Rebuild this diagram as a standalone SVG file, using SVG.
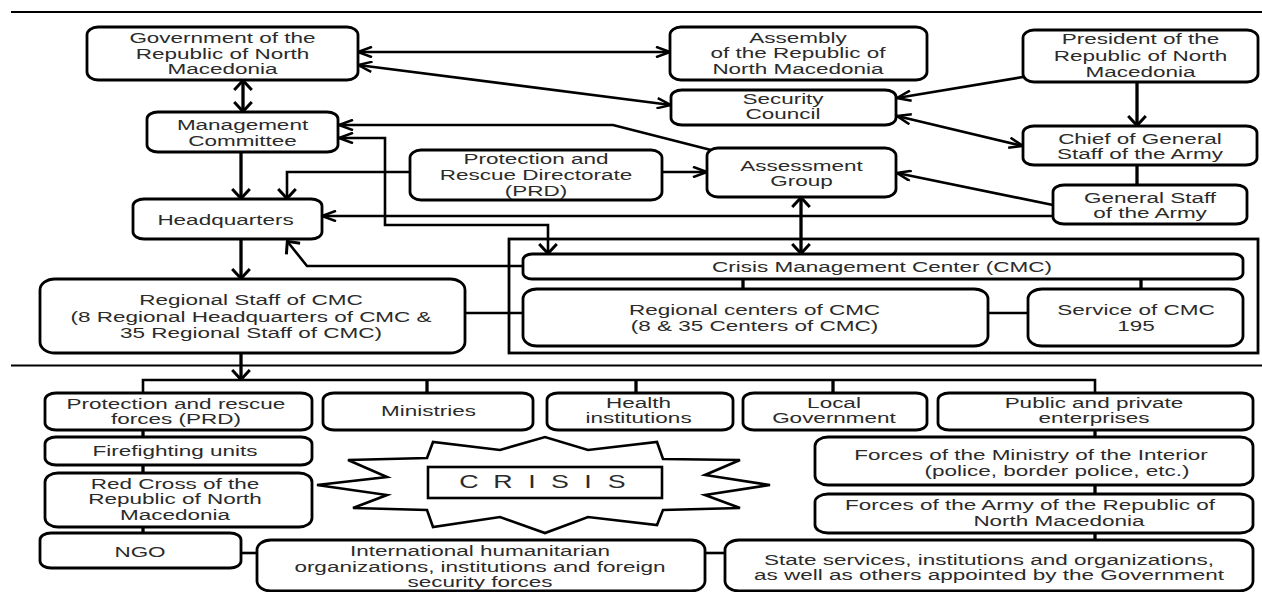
<svg xmlns="http://www.w3.org/2000/svg" width="1262" height="592" viewBox="0 0 1262 592">
<style>
.b{fill:#fff;stroke:#000;stroke-width:2.8}
.t{font-family:"Liberation Sans",Arial,sans-serif;font-size:15px;fill:#2b2b2b;text-anchor:middle}
.c{fill:none;stroke:#000;stroke-width:2.6}
.v{fill:none;stroke:#000;stroke-width:3.3}
</style>
<defs>
<marker id="ah" viewBox="0 0 16 12" refX="15" refY="6" markerWidth="16" markerHeight="12" markerUnits="userSpaceOnUse" orient="auto-start-reverse"><path d="M1,0.8 L15,6 L1,11.2" fill="none" stroke="#000" stroke-width="2.5"/></marker>
<marker id="av" viewBox="0 0 12 20" refX="11" refY="10" markerWidth="12" markerHeight="20" markerUnits="userSpaceOnUse" orient="auto-start-reverse"><path d="M1,1.2 L10.5,10 L1,18.8" fill="none" stroke="#000" stroke-width="3"/></marker>
</defs>
<rect width="1262" height="592" fill="#fff"/>
<g id="separators">
<line x1="11" y1="12" x2="1262" y2="12" stroke="#000" stroke-width="2"/>
<line x1="11" y1="365.5" x2="1262" y2="365.5" stroke="#000" stroke-width="2"/>
</g>
<g id="connectors">
<line class="c" x1="358" y1="52" x2="670" y2="52" marker-start="url(#ah)" marker-end="url(#ah)"/>
<line class="c" x1="358" y1="65" x2="671" y2="105" marker-start="url(#ah)" marker-end="url(#ah)"/>
<line class="c" x1="1023" y1="77" x2="897" y2="98" marker-end="url(#ah)"/>
<line class="c" x1="897" y1="116" x2="1023" y2="146" marker-start="url(#ah)" marker-end="url(#ah)"/>
<line class="v" x1="1137" y1="82" x2="1137" y2="126" marker-end="url(#av)"/>
<line class="v" x1="1137" y1="165" x2="1137" y2="185"/>
<line class="v" x1="243" y1="80" x2="243" y2="112" marker-start="url(#av)" marker-end="url(#av)"/>
<line class="v" x1="241" y1="152" x2="241" y2="199" marker-end="url(#av)"/>
<polyline class="c" points="410,172 287,172 287,199" marker-end="url(#av)"/>
<line class="c" x1="662" y1="172" x2="707" y2="172" marker-end="url(#ah)"/>
<polyline class="c" points="711,150 613,125 339,125" marker-end="url(#ah)"/>
<polyline class="c" points="339,138 385,138 385,225 548,225 548,254" marker-start="url(#ah)" marker-end="url(#av)"/>
<line class="c" x1="1053" y1="216" x2="322" y2="216" marker-end="url(#ah)"/>
<line class="c" x1="1053" y1="205" x2="897" y2="173" marker-end="url(#ah)"/>
<line class="v" x1="801" y1="197" x2="801" y2="254" marker-start="url(#av)" marker-end="url(#av)"/>
<polyline class="c" points="523,266 307,266 287,241" marker-end="url(#av)"/>
<line class="v" x1="241" y1="239" x2="241" y2="279" marker-end="url(#av)"/>
<line class="c" x1="465" y1="313" x2="523" y2="313"/>
<line class="v" x1="743" y1="279" x2="743" y2="289"/>
<line class="v" x1="1141" y1="279" x2="1141" y2="289"/>
<line class="c" x1="988" y1="313" x2="1028" y2="313"/>
<line class="v" x1="241" y1="353" x2="241" y2="380" marker-end="url(#av)"/>
<polyline class="c" points="143,393 143,380 1095,380 1095,393"/>
<line class="v" x1="427" y1="380" x2="427" y2="393"/>
<line class="v" x1="636" y1="380" x2="636" y2="393"/>
<line class="v" x1="833" y1="380" x2="833" y2="393"/>
<line class="v" x1="143" y1="430" x2="143" y2="437"/>
<line class="v" x1="143" y1="465" x2="143" y2="473"/>
<line class="v" x1="143" y1="527" x2="143" y2="533"/>
<line class="v" x1="1095" y1="430" x2="1095" y2="437"/>
<line class="v" x1="1095" y1="485" x2="1095" y2="494"/>
<line class="v" x1="1095" y1="533" x2="1095" y2="540"/>
<line class="c" x1="241" y1="553" x2="257" y2="553"/>
<line class="c" x1="705" y1="553" x2="725" y2="553"/>
</g>
<g id="gov"><rect class="b" x="87" y="27" width="271" height="53" rx="11" ry="8"/>
<text class="t" transform="matrix(1.5 0 0 1 222.5 0)"><tspan x="0" y="43.5">Government of the</tspan><tspan x="0" y="59">Republic of North</tspan><tspan x="0" y="74.5">Macedonia</tspan></text></g>
<g id="assembly"><rect class="b" x="670" y="27" width="257" height="53" rx="11" ry="8"/>
<text class="t" transform="matrix(1.5 0 0 1 798 0)"><tspan x="0" y="43">Assembly</tspan><tspan x="0" y="58.5">of the Republic of</tspan><tspan x="0" y="74">North Macedonia</tspan></text></g>
<g id="president"><rect class="b" x="1023" y="30" width="235" height="52" rx="11" ry="8"/>
<text class="t" transform="matrix(1.5 0 0 1 1140.5 0)"><tspan x="0" y="44.5">President of the</tspan><tspan x="0" y="61">Republic of North</tspan><tspan x="0" y="77">Macedonia</tspan></text></g>
<g id="security"><rect class="b" x="671" y="90" width="225" height="35" rx="11" ry="7"/>
<text class="t" transform="matrix(1.5 0 0 1 783 0)"><tspan x="0" y="104.5">Security</tspan><tspan x="0" y="119.5">Council</tspan></text></g>
<g id="management"><rect class="b" x="147" y="112" width="191" height="40" rx="11" ry="7"/>
<text class="t" transform="matrix(1.5 0 0 1 242.5 0)"><tspan x="0" y="130.5">Management</tspan><tspan x="0" y="146">Committee</tspan></text></g>
<g id="chief"><rect class="b" x="1023" y="126" width="234" height="39" rx="11" ry="7"/>
<text class="t" transform="matrix(1.5 0 0 1 1140 0)"><tspan x="0" y="143.7">Chief of General</tspan><tspan x="0" y="159.3">Staff of the Army</tspan></text></g>
<g id="prd"><rect class="b" x="410" y="150" width="252" height="50" rx="11" ry="8"/>
<text class="t" transform="matrix(1.5 0 0 1 536 0)"><tspan x="0" y="163.7">Protection and</tspan><tspan x="0" y="180.2">Rescue Directorate</tspan><tspan x="0" y="196.5">(PRD)</tspan></text></g>
<g id="assessment"><rect class="b" x="707" y="148" width="189" height="49" rx="11" ry="8"/>
<text class="t" transform="matrix(1.5 0 0 1 801.5 0)"><tspan x="0" y="171">Assessment</tspan><tspan x="0" y="186">Group</tspan></text></g>
<g id="genstaff"><rect class="b" x="1053" y="185" width="194" height="39" rx="11" ry="7"/>
<text class="t" transform="matrix(1.5 0 0 1 1150 0)"><tspan x="0" y="202.7">General Staff</tspan><tspan x="0" y="217.7">of the Army</tspan></text></g>
<g id="hq"><rect class="b" x="133" y="199" width="189" height="40" rx="11" ry="7"/>
<text class="t" transform="matrix(1.5 0 0 1 225.5 0)"><tspan x="0" y="225">Headquarters</tspan></text></g>
<g id="cmc-frame"><rect x="509" y="239" width="749" height="114" fill="none" stroke="#000" stroke-width="2.8"/></g>
<g id="cmc"><rect class="b" x="523" y="254" width="720" height="25" rx="9" ry="6"/>
<text class="t" transform="matrix(1.5 0 0 1 882 0)"><tspan x="0" y="271.7">Crisis Management Center (CMC)</tspan></text></g>
<g id="regcenters"><rect class="b" x="523" y="289" width="465" height="57" rx="14" ry="10"/>
<text class="t" transform="matrix(1.5 0 0 1 754.5 0)"><tspan x="0" y="315.3">Regional centers of CMC</tspan><tspan x="0" y="331">(8 &amp; 35 Centers of CMC)</tspan></text></g>
<g id="service"><rect class="b" x="1028" y="289" width="215" height="57" rx="14" ry="10"/>
<text class="t" transform="matrix(1.5 0 0 1 1136 0)"><tspan x="0" y="315.3">Service of CMC</tspan><tspan x="0" y="331">195</tspan></text></g>
<g id="regstaff"><rect class="b" x="40" y="279" width="425" height="74" rx="15" ry="11"/>
<text class="t" transform="matrix(1.5 0 0 1 251 0)"><tspan x="0" y="305.3">Regional Staff of CMC</tspan><tspan x="0" y="321.7">(8 Regional Headquarters of CMC &amp;</tspan><tspan x="0" y="337.7">35 Regional Staff of CMC)</tspan></text></g>
<g id="prforces"><rect class="b" x="45" y="393" width="267" height="37" rx="11" ry="7"/>
<text class="t" transform="matrix(1.5 0 0 1 176 0)"><tspan x="0" y="409.3">Protection and rescue</tspan><tspan x="0" y="424.3">forces (PRD)</tspan></text></g>
<g id="ministries"><rect class="b" x="323" y="393" width="210" height="37" rx="11" ry="7"/>
<text class="t" transform="matrix(1.5 0 0 1 428.5 0)"><tspan x="0" y="416">Ministries</tspan></text></g>
<g id="health"><rect class="b" x="547" y="393" width="186" height="37" rx="11" ry="7"/>
<text class="t" transform="matrix(1.5 0 0 1 638.5 0)"><tspan x="0" y="407.7">Health</tspan><tspan x="0" y="422.7">institutions</tspan></text></g>
<g id="localgov"><rect class="b" x="743" y="393" width="184" height="37" rx="11" ry="7"/>
<text class="t" transform="matrix(1.5 0 0 1 834 0)"><tspan x="0" y="407.7">Local</tspan><tspan x="0" y="422.7">Government</tspan></text></g>
<g id="public"><rect class="b" x="938" y="393" width="315" height="37" rx="11" ry="7"/>
<text class="t" transform="matrix(1.5 0 0 1 1094 0)"><tspan x="0" y="407.7">Public and private</tspan><tspan x="0" y="422.7">enterprises</tspan></text></g>
<g id="firefighting"><rect class="b" x="45" y="437" width="267" height="28" rx="11" ry="7"/>
<text class="t" transform="matrix(1.5 0 0 1 175 0)"><tspan x="0" y="456">Firefighting units</tspan></text></g>
<g id="redcross"><rect class="b" x="45" y="473" width="267" height="54" rx="13" ry="9"/>
<text class="t" transform="matrix(1.5 0 0 1 175 0)"><tspan x="0" y="489.3">Red Cross of the</tspan><tspan x="0" y="504.5">Republic of North</tspan><tspan x="0" y="520.3">Macedonia</tspan></text></g>
<g id="ngo"><rect class="b" x="40" y="533" width="201" height="35" rx="11" ry="7"/>
<text class="t" transform="matrix(1.5 0 0 1 140 0)"><tspan x="0" y="557">NGO</tspan></text></g>
<g id="interior"><rect class="b" x="815" y="437" width="438" height="48" rx="13" ry="9"/>
<text class="t" transform="matrix(1.5 0 0 1 1031 0)"><tspan x="0" y="460">Forces of the Ministry of the Interior</tspan></text>
<text class="t" transform="matrix(1.5 0 0 1 1057 0)"><tspan x="0" y="476">(police, border police, etc.)</tspan></text></g>
<g id="army"><rect class="b" x="815" y="494" width="438" height="39" rx="13" ry="8"/>
<text class="t" transform="matrix(1.5 0 0 1 1030 0)"><tspan x="0" y="510.3">Forces of the Army of the Republic of</tspan></text>
<text class="t" transform="matrix(1.5 0 0 1 1059 0)"><tspan x="0" y="526">North Macedonia</tspan></text></g>
<g id="international"><rect class="b" x="257" y="540" width="448" height="51" rx="14" ry="10"/>
<text class="t" transform="matrix(1.5 0 0 1 480 0)"><tspan x="0" y="556">International humanitarian</tspan><tspan x="0" y="572">organizations, institutions and foreign</tspan><tspan x="0" y="587">security forces</tspan></text></g>
<g id="state"><rect class="b" x="725" y="540" width="528" height="51" rx="14" ry="10"/>
<text class="t" transform="matrix(1.5 0 0 1 989 0)"><tspan x="0" y="565">State services, institutions and organizations,</tspan><tspan x="0" y="580">as well as others appointed by the Government</tspan></text></g>
<g id="crisis">
<polygon points="427,458 433,442 500,450 545,437 588,450 657,442 663,459 740,460 705,475 770,485 705,495 740,508 663,510 657,525 588,517 545,533 500,517 433,527 427,510 353,508 387,495 317,485 387,477 348,460" fill="#fff" stroke="#000" stroke-width="2.6" stroke-linejoin="miter"/>
<rect x="428" y="467" width="234" height="31" fill="#fff" stroke="#000" stroke-width="2.6"/>
<text class="t" style="font-size:18.5px" transform="matrix(1.45 0 0 1 545 0)" x="-52.4 -29 -9 10.3 29.7 49.4" y="488.5">CRISIS</text>
</g>
</svg>
